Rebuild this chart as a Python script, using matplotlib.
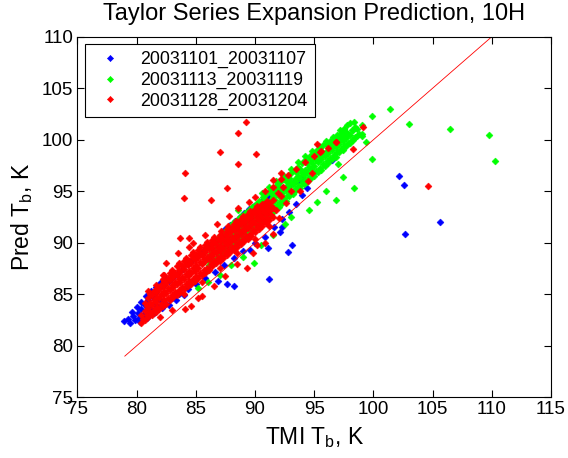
import numpy as np
import matplotlib
matplotlib.use("Agg")
import matplotlib.pyplot as plt

plt.rcParams['font.family'] = ['Liberation Sans', 'DejaVu Sans']
plt.rcParams['mathtext.fontset'] = 'custom'
plt.rcParams['mathtext.rm'] = 'Liberation Sans'
plt.rcParams['mathtext.it'] = 'Liberation Sans:italic'

labels = ["20031101_20031107", "20031113_20031119", "20031128_20031204"]

# (TMI Tb, Pred Tb) pairs
blue_pts = [
    (78.9, 82.4), (79.3, 82.6), (79.4, 82.2), (79.7, 82.9), (79.9, 82.5), (80.1, 83.2),
    (80.2, 82.7), (80.4, 83.6), (80.5, 83.0), (80.7, 84.0), (80.8, 83.3), (81.0, 84.4),
    (81.2, 83.6), (81.3, 84.8), (81.6, 84.0), (81.6, 85.2), (82.0, 84.4), (81.9, 85.6),
    (82.3, 85.9), (82.7, 86.3), (83.1, 86.7), (83.5, 87.1), (83.9, 87.5), (84.3, 87.9),
    (84.7, 88.3), (85.1, 88.7), (85.5, 89.1), (85.9, 89.5), (86.3, 89.9), (86.7, 90.3),
    (87.1, 90.8), (87.5, 91.3), (87.9, 91.7), (88.3, 92.1), (88.7, 92.5), (89.1, 92.9),
    (89.5, 93.3), (89.9, 93.6), (90.3, 93.9), (90.7, 94.2), (91.1, 94.5), (91.5, 94.8),
    (91.9, 95.0), (92.3, 95.3), (92.8, 95.5), (93.2, 95.8), (93.6, 96.0), (94.0, 96.3),
    (79.6, 83.3), (80.0, 83.8), (80.4, 84.3), (80.8, 84.8), (81.2, 85.3), (81.6, 85.7),
    (82.0, 86.1), (82.4, 86.6), (80.3, 82.3), (80.9, 82.7), (81.5, 83.2), (82.1, 83.7),
    (82.7, 84.0), (83.3, 84.4), (84.0, 84.9),
    (82.4, 84.2), (83.0, 84.6), (83.6, 85.0), (84.3, 85.5), (85.0, 86.0), (85.8, 86.6),
    (86.6, 87.2), (87.4, 87.8), (88.2, 88.5), (89.0, 89.2), (90.0, 90.0), (90.8, 90.6),
    (91.6, 91.5), (92.3, 92.3), (92.9, 93.0), (93.5, 93.8), (94.0, 94.6), (94.4, 95.3),
    (87.65, 86.0), (88.2, 85.8), (86.9, 86.25), (91.2, 86.5), (89.6, 89.3), (91.1, 89.5),
    (92.75, 89.1), (93.1, 89.75), (92.1, 91.0), (92.3, 91.55), (102.2, 96.5), (102.6, 95.6),
    (105.6, 92.0), (102.7, 90.9), (96.5, 98.0),
]

green_pts = [
    (86.0, 87.4), (86.0, 88.3), (86.3, 87.9), (86.3, 88.9), (86.6, 88.1), (86.6, 89.2),
    (86.6, 90.0), (86.9, 88.5), (86.9, 89.5), (87.2, 88.7), (87.2, 89.8), (87.2, 90.6),
    (87.5, 89.1), (87.5, 90.1), (87.8, 89.3), (87.8, 90.4), (87.8, 91.3), (88.1, 89.7),
    (88.1, 90.7), (88.1, 91.6), (88.4, 89.9), (88.4, 91.0), (88.7, 90.3), (88.7, 91.3),
    (88.7, 92.1), (89.0, 90.5), (89.0, 91.5), (89.0, 92.4), (89.3, 90.9), (89.3, 91.9),
    (89.6, 91.1), (89.6, 92.1), (89.6, 93.0), (89.9, 91.5), (89.9, 92.4), (89.9, 93.3),
    (90.2, 91.7), (90.2, 92.7), (90.5, 92.1), (90.5, 93.0), (90.5, 93.9), (90.8, 92.3),
    (90.8, 93.3), (90.8, 94.2), (91.1, 92.7), (91.1, 93.6), (91.4, 92.9), (91.4, 93.9),
    (91.4, 94.7), (91.7, 93.3), (91.7, 94.2), (91.7, 95.0), (92.0, 93.5), (92.0, 94.5),
    (92.0, 95.3), (92.3, 93.9), (92.3, 94.8), (92.6, 94.1), (92.6, 95.1), (92.6, 96.0),
    (92.9, 94.5), (92.9, 95.4), (92.9, 96.3), (93.2, 94.7), (93.2, 95.7), (93.5, 95.1),
    (93.5, 96.0), (93.5, 96.9), (93.8, 95.3), (93.8, 96.3), (93.8, 97.2), (94.1, 95.7),
    (94.1, 96.6), (94.4, 95.9), (94.4, 96.9), (94.4, 97.7), (94.7, 96.3), (94.7, 97.2),
    (94.7, 98.0), (95.0, 96.5), (95.0, 97.5), (95.3, 96.9), (95.3, 97.8), (95.3, 98.6),
    (95.6, 97.1), (95.6, 98.1), (95.6, 98.9), (95.9, 97.5), (95.9, 98.4), (96.2, 97.7),
    (96.2, 98.7), (96.2, 99.4), (96.5, 98.1), (96.5, 99.0), (96.5, 99.7), (96.8, 98.3),
    (96.8, 99.3), (97.1, 98.8), (97.1, 99.6), (97.1, 100.3), (97.4, 99.0), (97.4, 99.9),
    (97.7, 99.4), (97.7, 100.2), (97.7, 100.8), (98.0, 99.7), (98.0, 100.5), (98.3, 100.0),
    (98.3, 100.9), (98.6, 100.4), (99.0, 100.6), (99.0, 101.4),
    (86.15, 87.8), (86.15, 88.7), (86.45, 88.3), (86.45, 89.3), (86.75, 88.5), (86.75, 89.6),
    (86.75, 90.3), (87.05, 88.9), (87.05, 89.9), (87.05, 90.7), (87.35, 89.2), (87.35, 90.2),
    (87.35, 91.0), (87.65, 89.5), (87.65, 90.5), (87.65, 91.3), (87.95, 89.8), (87.95, 90.8),
    (87.95, 91.7), (88.25, 90.1), (88.25, 91.1), (88.25, 92.0), (88.55, 90.4), (88.55, 91.4),
    (88.55, 92.3), (88.85, 90.7), (88.85, 91.7), (88.85, 92.6), (89.15, 91.0), (89.15, 92.0),
    (89.15, 92.9), (89.45, 91.3), (89.45, 92.3), (89.45, 93.2), (89.75, 91.6), (89.75, 92.6),
    (89.75, 93.5), (90.05, 91.9), (90.05, 92.9), (90.05, 93.8), (90.35, 92.2), (90.35, 93.2),
    (90.35, 94.1), (90.65, 92.5), (90.65, 93.5), (90.65, 94.4), (90.95, 92.8), (90.95, 93.8),
    (90.95, 94.7), (91.25, 93.1), (91.25, 94.1), (91.25, 95.0), (91.55, 93.4), (91.55, 94.4),
    (91.55, 95.3), (91.85, 93.7), (91.85, 94.7), (91.85, 95.6), (92.15, 94.0), (92.15, 95.0),
    (92.15, 95.9), (92.45, 94.3), (92.45, 95.3), (92.45, 96.2), (92.75, 94.6), (92.75, 95.6),
    (92.75, 96.5), (93.05, 94.9), (93.05, 95.9), (93.05, 96.8), (93.35, 95.2), (93.35, 96.2),
    (93.35, 97.1), (93.65, 95.5), (93.65, 96.5), (93.65, 97.4), (93.95, 95.8), (93.95, 96.8),
    (93.95, 97.7), (94.25, 96.1), (94.25, 97.1), (94.25, 98.0), (94.55, 96.4), (94.55, 97.4),
    (94.55, 98.3), (94.85, 96.7), (94.85, 97.7), (94.85, 98.6), (95.15, 97.0), (95.15, 98.0),
    (95.15, 98.9), (95.45, 97.3), (95.45, 98.3), (95.45, 99.2), (95.75, 97.6), (95.75, 98.6),
    (95.75, 99.5), (96.05, 97.9), (96.05, 98.9), (96.05, 99.7), (96.35, 98.2), (96.35, 99.2),
    (96.35, 99.9), (96.65, 98.5), (96.65, 99.5), (96.65, 100.1), (96.95, 98.8), (96.95, 99.8),
    (96.95, 100.5), (97.25, 99.1), (97.25, 100.1), (97.25, 100.7), (97.55, 99.4), (97.55, 100.4),
    (97.55, 101.0), (97.85, 99.7), (97.85, 100.6), (98.15, 100.0), (98.15, 100.9),
    (98.45, 100.3), (98.45, 101.2), (98.75, 100.6),
    (93.0, 97.2), (93.6, 97.8), (94.2, 98.4), (94.8, 98.9), (95.4, 99.4), (96.0, 99.9),
    (96.6, 100.3), (97.2, 100.9), (97.8, 101.4), (98.4, 101.7), (92.4, 96.6), (91.8, 96.0),
    (91.2, 95.4), (90.6, 94.8),
    (85.2, 85.6), (86.0, 86.2), (87.0, 86.9), (88.0, 87.8), (89.0, 88.6), (90.5, 89.8),
    (91.5, 90.8), (92.5, 91.8), (96.0, 95.0), (96.8, 94.2), (97.4, 96.4), (95.2, 94.0),
    (94.6, 93.2), (97.0, 97.6), (98.6, 101.0), (99.0, 100.4), (98.0, 101.6), (97.5, 101.0),
    (101.4, 103.0), (103.0, 101.5), (106.5, 101.0), (109.8, 100.5), (110.3, 97.9),
    (99.9, 102.3), (99.4, 99.75), (99.9, 98.1), (98.4, 95.3), (89.9, 88.0), (93.0, 92.5),
    (88.6, 93.2),
]

red_pts = [
    (80.4, 82.2), (80.4, 83.0), (80.7, 82.5), (80.7, 83.4), (80.7, 84.2), (81.0, 82.8),
    (81.0, 83.7), (81.0, 84.6), (81.3, 83.0), (81.3, 84.0), (81.3, 84.9), (81.6, 83.3),
    (81.6, 84.3), (81.6, 85.2), (81.9, 83.6), (81.9, 84.6), (81.9, 85.5), (82.2, 83.9),
    (82.2, 84.9), (82.2, 85.8), (82.2, 86.5), (82.5, 84.1), (82.5, 85.1), (82.5, 86.1),
    (82.8, 84.4), (82.8, 85.4), (82.8, 86.4), (82.8, 87.1), (83.1, 84.7), (83.1, 85.7),
    (83.1, 86.7), (83.4, 84.9), (83.4, 86.0), (83.4, 86.9), (83.4, 87.7), (83.7, 85.2),
    (83.7, 86.2), (83.7, 87.2), (84.0, 85.5), (84.0, 86.5), (84.0, 87.5), (84.0, 88.2),
    (84.3, 85.8), (84.3, 86.8), (84.3, 87.8), (84.6, 86.0), (84.6, 87.1), (84.6, 88.0),
    (84.6, 88.8), (84.9, 86.3), (84.9, 87.3), (84.9, 88.3), (85.2, 86.6), (85.2, 87.6),
    (85.2, 88.6), (85.2, 89.3), (85.5, 86.9), (85.5, 87.9), (85.5, 88.8), (85.8, 87.1),
    (85.8, 88.2), (85.8, 89.1), (85.8, 89.8), (86.1, 87.4), (86.1, 88.4), (86.1, 89.4),
    (86.4, 87.7), (86.4, 88.7), (86.4, 89.6), (86.4, 90.3), (86.7, 88.0), (86.7, 89.0),
    (86.7, 89.9), (87.0, 88.2), (87.0, 89.2), (87.0, 90.2), (87.0, 90.8), (87.3, 88.5),
    (87.3, 89.5), (87.3, 90.4), (87.6, 88.8), (87.6, 89.8), (87.6, 90.7), (87.6, 91.3),
    (87.9, 89.1), (87.9, 90.1), (87.9, 91.0), (88.2, 89.3), (88.2, 90.3), (88.2, 91.2),
    (88.2, 91.8), (88.5, 89.6), (88.5, 90.6), (88.5, 91.5), (88.8, 89.9), (88.8, 90.9),
    (88.8, 91.8), (88.8, 92.3), (89.1, 90.2), (89.1, 91.1), (89.1, 92.0), (89.4, 90.4),
    (89.4, 91.4), (89.4, 92.3), (89.4, 92.8), (89.7, 90.7), (89.7, 91.7), (89.7, 92.5),
    (90.0, 91.0), (90.0, 91.9), (90.0, 92.8), (90.0, 93.3), (90.3, 91.3), (90.3, 92.2),
    (90.3, 93.0), (90.6, 91.6), (90.6, 92.5), (90.6, 93.3), (90.6, 93.8), (90.9, 91.9),
    (90.9, 92.8), (90.9, 93.6), (91.2, 92.2), (91.2, 93.1), (91.2, 93.9), (91.5, 92.5),
    (91.5, 93.4), (91.5, 94.2),
    (80.55, 82.6), (80.85, 82.95), (80.85, 83.85), (81.15, 83.25), (81.15, 84.15), (81.15, 85.0),
    (81.45, 83.5), (81.45, 84.45), (81.45, 85.35), (81.75, 83.8), (81.75, 84.75), (81.75, 85.65),
    (82.05, 84.1), (82.05, 85.05), (82.05, 85.95), (82.35, 84.4), (82.35, 85.35), (82.35, 86.25),
    (82.35, 86.9), (82.65, 84.6), (82.65, 85.6), (82.65, 86.55), (82.95, 84.9), (82.95, 85.9),
    (82.95, 86.85), (82.95, 87.4), (83.25, 85.2), (83.25, 86.2), (83.25, 87.1), (83.55, 85.45),
    (83.55, 86.45), (83.55, 87.4), (83.55, 88.0), (83.85, 85.7), (83.85, 86.7), (83.85, 87.7),
    (84.15, 86.0), (84.15, 87.0), (84.15, 87.95), (84.15, 88.5), (84.45, 86.3), (84.45, 87.3),
    (84.45, 88.25), (84.75, 86.5), (84.75, 87.55), (84.75, 88.5), (84.75, 89.1), (85.05, 86.8),
    (85.05, 87.8), (85.05, 88.8), (85.35, 87.1), (85.35, 88.1), (85.35, 89.05), (85.35, 89.6),
    (85.65, 87.4), (85.65, 88.4), (85.65, 89.3), (85.95, 87.6), (85.95, 88.65), (85.95, 89.6),
    (85.95, 90.1), (86.25, 87.9), (86.25, 88.9), (86.25, 89.85), (86.55, 88.2), (86.55, 89.2),
    (86.55, 90.1), (86.55, 90.6), (86.85, 88.5), (86.85, 89.45), (86.85, 90.4), (87.15, 88.7),
    (87.15, 89.7), (87.15, 90.6), (87.15, 91.1), (87.45, 89.0), (87.45, 90.0), (87.45, 90.85),
    (87.75, 89.3), (87.75, 90.3), (87.75, 91.1), (87.75, 91.6), (88.05, 89.6), (88.05, 90.55),
    (88.05, 91.4), (88.35, 89.8), (88.35, 90.8), (88.35, 91.6), (88.35, 92.1), (88.65, 90.1),
    (88.65, 91.1), (88.65, 91.9), (88.95, 90.4), (88.95, 91.35), (88.95, 92.2), (88.95, 92.6),
    (89.25, 90.7), (89.25, 91.6), (89.25, 92.45), (89.55, 90.9), (89.55, 91.9), (89.55, 92.7),
    (89.55, 93.1), (89.85, 91.2), (89.85, 92.15), (89.85, 93.0), (90.15, 91.5), (90.15, 92.4),
    (90.15, 93.2), (90.15, 93.6), (90.45, 91.8), (90.45, 92.7), (90.45, 93.5), (90.75, 92.1),
    (90.75, 93.0), (90.75, 93.75), (91.05, 92.4), (91.05, 93.3), (91.05, 94.1), (91.35, 92.7),
    (91.35, 93.6),
    (91.8, 93.2), (92.2, 94.5), (92.6, 93.9), (93.0, 95.0), (91.9, 94.8), (92.4, 95.4),
    (81.0, 85.3), (81.6, 85.9), (82.2, 86.9), (84.0, 85.0), (85.5, 86.2), (87.0, 87.6),
    (88.5, 89.0), (90.0, 90.4), (91.2, 91.6), (92.0, 92.4),
    (92.8, 96.6), (93.5, 97.2), (94.2, 97.8), (94.5, 96.0), (95.0, 98.4), (95.6, 98.9),
    (96.2, 99.2), (96.8, 99.8), (93.8, 95.0), (91.5, 95.4), (90.8, 95.0), (92.2, 96.2),
    (94.8, 96.8), (89.5, 94.0), (90.0, 94.4), (88.6, 93.4), (87.8, 92.6), (86.8, 91.8),
    (85.8, 90.8), (84.8, 90.0), (83.5, 89.0), (82.5, 88.0), (85.5, 84.8), (86.5, 85.8),
    (87.5, 86.8), (88.5, 87.9), (89.8, 89.0), (90.8, 90.0), (91.5, 90.9), (82.0, 82.8),
    (83.0, 83.5),
    (89.2, 101.7), (88.6, 100.65), (87.0, 98.8), (90.1, 98.6), (88.6, 97.6), (84.1, 96.8),
    (92.2, 96.8), (91.5, 96.1), (87.6, 95.3), (84.0, 94.3), (86.3, 94.2), (83.7, 90.5),
    (84.4, 90.5), (84.4, 89.6), (84.1, 83.6), (84.6, 83.9), (85.2, 84.6), (89.3, 87.6),
    (90.2, 89.75), (99.1, 101.2), (98.3, 99.1), (96.8, 99.75), (95.2, 99.6), (95.5, 98.8),
    (104.6, 95.5),
]

one_to_one = [79, 110]

blue = np.array(blue_pts)
green = np.array(green_pts)
red = np.array(red_pts)

fig = plt.figure(figsize=(5.68, 4.58), dpi=100)
ax = fig.add_axes([0.1364, 0.1325, 0.8336, 0.7873])

mk = dict(linestyle="none", marker="D", markersize=3.5, markeredgewidth=0.4)
ax.plot(blue[:, 0], blue[:, 1], color="#0000ff", label=labels[0], **mk)
ax.plot(green[:, 0], green[:, 1], color="#00ff00", label=labels[1], **mk)
ax.plot(red[:, 0], red[:, 1], color="#ff0000", label=labels[2], **mk)
ax.plot(one_to_one, one_to_one, color="#ff0000", linewidth=0.6)

ax.set_xlim(75, 115)
ax.set_ylim(75, 110)
ax.set_xticks(np.arange(75, 116, 5))
ax.set_yticks(np.arange(75, 111, 5))
ax.tick_params(direction="in", top=True, right=True, length=5, width=0.8,
               labelsize=13.5, pad=3, colors="black")
for s in ax.spines.values():
    s.set_linewidth(0.8)

ax.set_title("Taylor Series Expansion Prediction, 10H", fontsize=17, pad=12)
ax.set_xlabel("TMI T$_\\mathrm{b}$, K", fontsize=16.5, labelpad=5)
ax.set_ylabel("Pred T$_\\mathrm{b}$, K", fontsize=16.5, labelpad=5)

leg = ax.legend(loc="upper left", bbox_to_anchor=(0.016, 0.98), fontsize=12.8,
                fancybox=False, edgecolor="black", framealpha=1, borderaxespad=0,
                handlelength=2.0, handletextpad=0.7, markerscale=0.9,
                labelspacing=0.2, borderpad=0.4)
leg.get_frame().set_linewidth(0.8)

fig.savefig("out.png", dpi=100)
